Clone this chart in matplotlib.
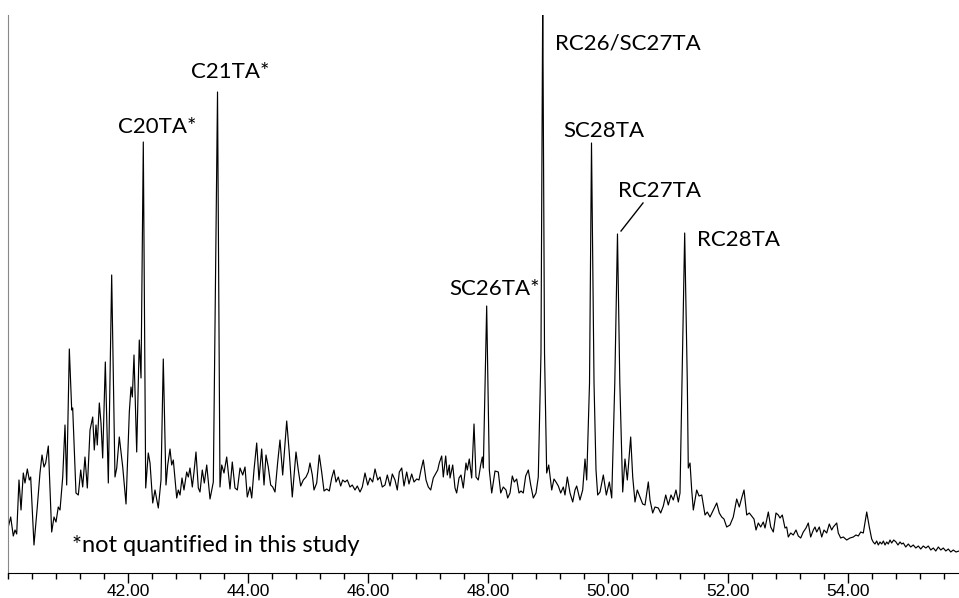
import matplotlib
matplotlib.use("Agg")
import matplotlib.pyplot as plt
from matplotlib.ticker import FixedLocator, MultipleLocator, FormatStrFormatter

# retention time (min)
rt = [
    40.005, 40.045, 40.088, 40.117, 40.145, 40.183, 40.217, 40.255, 40.283, 40.322,
    40.355, 40.378, 40.433, 40.488, 40.533, 40.567, 40.600, 40.628, 40.672, 40.728,
    40.767, 40.800, 40.838, 40.867, 40.912, 40.950, 40.978, 41.022, 41.062, 41.078,
    41.133, 41.172, 41.212, 41.245, 41.283, 41.322, 41.367, 41.412, 41.438, 41.467,
    41.488, 41.522, 41.550, 41.578, 41.622, 41.672, 41.728, 41.783, 41.812, 41.855,
    41.912, 41.967, 42.022, 42.050, 42.072, 42.100, 42.145, 42.188, 42.217, 42.255,
    42.295, 42.338, 42.367, 42.412, 42.450, 42.505, 42.550, 42.588, 42.633, 42.662,
    42.700, 42.728, 42.755, 42.812, 42.838, 42.867, 42.900, 42.933, 42.978, 43.005,
    43.033, 43.072, 43.100, 43.133, 43.172, 43.200, 43.238, 43.272, 43.312, 43.367,
    43.422, 43.492, 43.533, 43.562, 43.600, 43.645, 43.700, 43.738, 43.783, 43.822,
    43.867, 43.912, 43.950, 43.988, 44.033, 44.062, 44.100, 44.145, 44.183, 44.228,
    44.267, 44.300, 44.338, 44.378, 44.412, 44.450, 44.495, 44.533, 44.578, 44.645,
    44.688, 44.738, 44.800, 44.838, 44.878, 44.922, 44.967, 45.005, 45.033, 45.072,
    45.100, 45.145, 45.188, 45.228, 45.267, 45.312, 45.355, 45.395, 45.433, 45.467,
    45.505, 45.545, 45.578, 45.617, 45.655, 45.700, 45.738, 45.783, 45.822, 45.867,
    45.905, 45.950, 45.995, 46.033, 46.078, 46.117, 46.162, 46.200, 46.238, 46.283,
    46.322, 46.367, 46.405, 46.450, 46.488, 46.522, 46.562, 46.600, 46.645, 46.683,
    46.728, 46.767, 46.812, 46.850, 46.883, 46.922, 46.967, 47.005, 47.045, 47.088,
    47.133, 47.162, 47.188, 47.228, 47.255, 47.295, 47.322, 47.355, 47.367, 47.412,
    47.450, 47.478, 47.517, 47.550, 47.588, 47.633, 47.655, 47.688, 47.728, 47.767,
    47.800, 47.838, 47.878, 47.905, 47.922, 47.978, 48.022, 48.062, 48.117, 48.172,
    48.212, 48.255, 48.300, 48.328, 48.367, 48.405, 48.438, 48.478, 48.517, 48.550,
    48.588, 48.628, 48.672, 48.712, 48.755, 48.800, 48.838, 48.883, 48.912, 48.942,
    48.978, 49.012, 49.062, 49.100, 49.133, 49.172, 49.212, 49.255, 49.283, 49.322,
    49.367, 49.412, 49.450, 49.478, 49.533, 49.578, 49.617, 49.645, 49.692, 49.725,
    49.767, 49.800, 49.828, 49.867, 49.922, 49.972, 50.022, 50.062, 50.113, 50.158,
    50.197, 50.245, 50.283, 50.322, 50.378, 50.412, 50.450, 50.488, 50.533, 50.578,
    50.617, 50.672, 50.700, 50.745, 50.783, 50.838, 50.878, 50.922, 50.962, 51.005,
    51.050, 51.088, 51.133, 51.172, 51.200, 51.233, 51.278, 51.322, 51.338, 51.367,
    51.395, 51.422, 51.478, 51.517, 51.562, 51.617, 51.655, 51.700, 51.755, 51.812,
    51.855, 51.895, 51.933, 51.978, 52.033, 52.088, 52.145, 52.188, 52.228, 52.267,
    52.312, 52.355, 52.395, 52.433, 52.467, 52.505, 52.545, 52.588, 52.617, 52.672,
    52.712, 52.755, 52.800, 52.838, 52.867, 52.905, 52.950, 52.978, 53.005, 53.045,
    53.088, 53.133, 53.172, 53.212, 53.255, 53.300, 53.338, 53.378, 53.422, 53.450,
    53.478, 53.522, 53.562, 53.600, 53.645, 53.688, 53.728, 53.755, 53.783, 53.812,
    53.838, 53.878, 53.922, 53.978, 54.033, 54.088, 54.133, 54.172, 54.212, 54.255,
    54.312, 54.355, 54.395, 54.420, 54.450, 54.478, 54.505, 54.533, 54.562, 54.590,
    54.617, 54.645, 54.672, 54.700, 54.728, 54.762, 54.800, 54.833, 54.867, 54.895,
    54.922, 54.962, 55.005, 55.045, 55.088, 55.130, 55.172, 55.212, 55.255, 55.297,
    55.338, 55.380, 55.422, 55.463, 55.505, 55.547, 55.588, 55.630, 55.672, 55.713,
    55.755, 55.800, 55.850,
]

# abundance (arbitrary units)
abundance = [
    46, 56, 37, 43, 39, 93, 63, 100, 90, 104,
    93, 96, 28, 66, 100, 118, 106, 110, 127, 41,
    56, 51, 66, 63, 96, 148, 88, 224, 163, 165,
    80, 78, 103, 86, 116, 85, 143, 156, 123, 148,
    128, 170, 150, 115, 211, 90, 298, 96, 105, 136,
    106, 69, 161, 186, 176, 218, 121, 233, 195, 431,
    85, 120, 110, 70, 83, 65, 93, 214, 88, 108,
    124, 108, 113, 75, 83, 78, 95, 83, 101, 96,
    105, 86, 101, 121, 85, 81, 103, 90, 108, 74,
    91, 481, 86, 108, 100, 116, 84, 111, 85, 83,
    105, 98, 106, 76, 86, 75, 103, 130, 93, 124,
    88, 118, 106, 88, 86, 81, 111, 133, 98, 152,
    120, 76, 121, 103, 87, 93, 96, 101, 110, 98,
    83, 90, 118, 101, 82, 84, 82, 95, 103, 91,
    96, 87, 93, 91, 93, 86, 88, 83, 87, 81,
    86, 100, 88, 95, 91, 104, 93, 96, 86, 88,
    98, 87, 99, 93, 83, 101, 105, 87, 101, 89,
    99, 91, 94, 93, 103, 113, 93, 86, 83, 95,
    100, 103, 110, 117, 96, 117, 98, 108, 95, 108,
    85, 80, 95, 98, 85, 110, 103, 114, 95, 149,
    96, 93, 108, 116, 105, 267, 103, 80, 102, 101,
    80, 86, 83, 75, 80, 97, 91, 94, 80, 82,
    80, 97, 103, 88, 75, 80, 96, 220, 575, 220,
    100, 108, 83, 94, 91, 87, 80, 86, 78, 96,
    80, 71, 83, 87, 73, 83, 114, 93, 190, 430,
    190, 103, 78, 81, 98, 78, 91, 75, 190, 339,
    190, 81, 114, 93, 136, 96, 71, 83, 76, 69,
    68, 91, 73, 60, 66, 65, 60, 67, 78, 68,
    78, 73, 83, 71, 80, 190, 340, 190, 105, 110,
    83, 63, 83, 77, 78, 58, 61, 56, 63, 70,
    60, 56, 54, 46, 48, 56, 74, 66, 75, 83,
    58, 60, 57, 54, 43, 50, 46, 51, 45, 61,
    46, 41, 60, 58, 55, 58, 45, 46, 36, 40,
    38, 43, 37, 35, 41, 45, 50, 36, 43, 46,
    41, 46, 36, 43, 40, 49, 43, 46, 48, 50,
    40, 35, 36, 33, 35, 36, 38, 37, 41, 40,
    61, 46, 34, 31, 29, 32, 28, 31, 29, 32,
    28, 31, 29, 33, 30, 33, 31, 28, 31, 29,
    30, 26, 29, 26, 28, 25, 27, 24, 27, 25,
    27, 23, 25, 22, 26, 23, 25, 22, 24, 21,
    23, 21, 22,
]

peak_names = ["C20TA*", "C21TA*", "SC26TA*", "RC26/SC27TA", "SC28TA", "RC27TA", "RC28TA"]
note = "*not quantified in this study"

label_xy = [(41.833, 440), (43.05, 495), (47.35, 278), (49.117, 523),
            (49.255, 436), (50.172, 376), (51.478, 327)]

fig = plt.figure(figsize=(9.59, 5.98), dpi=100)
ax = fig.add_axes([8 / 959, 25 / 598, 951 / 959, 558 / 598])

ax.plot(rt, abundance, color="black", lw=0.85)
ax.set_xlim(40.0, 55.85)
ax.set_ylim(0, 558)

for name, (x, y) in zip(peak_names, label_xy):
    ax.text(x, y, name, fontsize=16, family="Lato", va="baseline", ha="left")
ax.text(41.067, 21, note, fontsize=17, family="Lato", va="baseline", ha="left")
# leader line for RC27TA
ax.plot([50.583, 50.217], [370, 342], color="black", lw=1)

ax.spines["top"].set_visible(False)
ax.spines["right"].set_visible(False)
ax.spines["left"].set_color("#888888")
ax.set_yticks([])

ax.xaxis.set_major_locator(FixedLocator([42, 44, 46, 48, 50, 52, 54]))
ax.xaxis.set_minor_locator(MultipleLocator(0.4))
ax.xaxis.set_major_formatter(FormatStrFormatter("%.2f"))
ax.tick_params(axis="x", which="major", length=7, width=1, pad=1,
               labelsize=12.5, labelfontfamily="Liberation Sans")
ax.tick_params(axis="x", which="minor", length=4, width=1)

fig.savefig("out.png", dpi=100)
